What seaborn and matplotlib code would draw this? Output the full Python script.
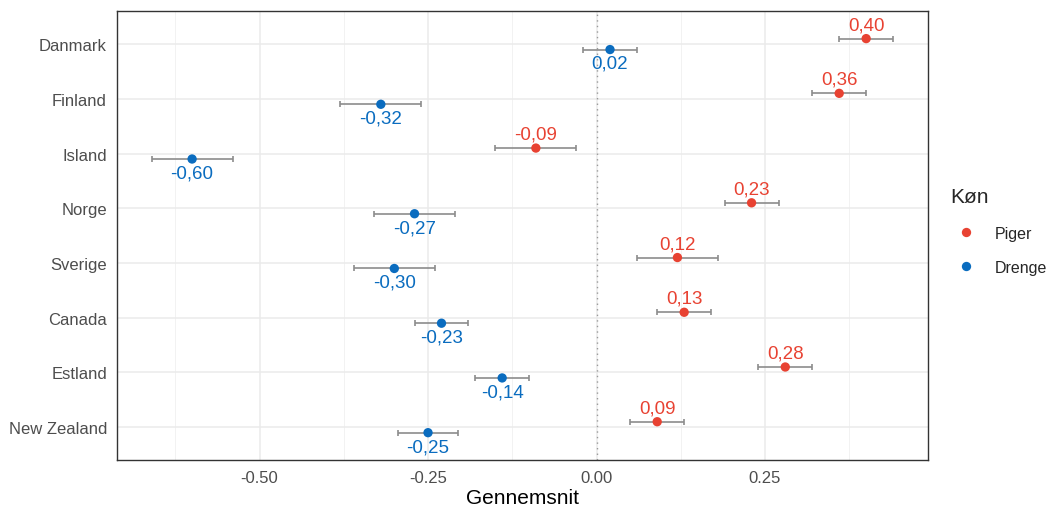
"""Gennemsnit per land og køn, prikker med fejlsøjler."""

import matplotlib.pyplot as plt
import pandas as pd
import seaborn as sns
from matplotlib.ticker import FixedLocator

countries = ["Danmark", "Finland", "Island", "Norge", "Sverige",
             "Canada", "Estland", "New Zealand"]
piger_mean = [0.40, 0.36, -0.09, 0.23, 0.12, 0.13, 0.28, 0.09]
piger_err = [0.04, 0.04, 0.06, 0.04, 0.06, 0.04, 0.04, 0.04]
drenge_mean = [0.02, -0.32, -0.60, -0.27, -0.30, -0.23, -0.14, -0.25]
drenge_err = [0.04, 0.06, 0.06, 0.06, 0.06, 0.04, 0.04, 0.045]
x_ticks = [-0.50, -0.25, 0.00, 0.25]
x_minor = [-0.625, -0.375, -0.125, 0.125, 0.375]

colors = {"Piger": "#E84232", "Drenge": "#0A6CBF"}
dodge = {"Piger": -0.1, "Drenge": 0.1}

df = pd.concat([
    pd.DataFrame({"land": countries, "mean": piger_mean, "err": piger_err, "Køn": "Piger"}),
    pd.DataFrame({"land": countries, "mean": drenge_mean, "err": drenge_err, "Køn": "Drenge"}),
], ignore_index=True)
df["ypos"] = df["land"].map({c: i for i, c in enumerate(countries)}) + df["Køn"].map(dodge)

sns.set_theme(style="white")
plt.rcParams["font.family"] = ["Liberation Sans", "DejaVu Sans"]

fig, ax = plt.subplots(figsize=(10.6, 5.1), dpi=100)
fig.subplots_adjust(left=0.110, right=0.875, bottom=0.096, top=0.976)

# grid like theme_bw
for x in x_ticks:
    ax.axvline(x, color="#EBEBEB", lw=1.1, zorder=0)
for x in x_minor:
    ax.axvline(x, color="#F2F2F2", lw=0.7, zorder=0)
for i in range(len(countries)):
    ax.axhline(i, color="#EBEBEB", lw=1.1, zorder=0)
ax.axvline(0, color="#999999", lw=1.0, ls=(0, (1, 3)), zorder=1)

ax.errorbar(df["mean"], df["ypos"], xerr=df["err"], fmt="none",
            ecolor="#8C8C8C", elinewidth=1.2, capsize=2.5, capthick=1.2, zorder=2)
sns.scatterplot(data=df, x="mean", y="ypos", hue="Køn", palette=colors,
                hue_order=["Piger", "Drenge"], s=45, edgecolor="none",
                ax=ax, zorder=3)

for _, r in df.iterrows():
    off = -10 if r["Køn"] == "Piger" else 10
    ax.annotate(f"{r['mean']:.2f}".replace(".", ","), (r["mean"], r["ypos"]),
                xytext=(0, -off), textcoords="offset points",
                ha="center", va="center", fontsize=13.5, color=colors[r["Køn"]])

ax.set_xlim(-0.712, 0.491)
ax.set_ylim(len(countries) - 1 + 0.6, -0.6)
ax.set_yticks(range(len(countries)))
ax.set_yticklabels(countries)
ax.set_xticks(x_ticks)
ax.set_xticklabels([f"{t:.2f}" for t in x_ticks])
ax.xaxis.set_minor_locator(FixedLocator(x_minor))
ax.tick_params(axis="both", which="major", length=4, width=1, color="#333333",
               labelcolor="#4D4D4D", labelsize=12, pad=3)
ax.tick_params(axis="x", which="minor", length=0)
ax.set_xlabel("Gennemsnit", fontsize=15, color="black", labelpad=2)
ax.set_ylabel("")
for s in ax.spines.values():
    s.set_color("#333333")
    s.set_linewidth(1.0)

handles, labels = ax.get_legend_handles_labels()
ax.legend(handles, labels, title="Køn", loc="center left",
          bbox_to_anchor=(1.01, 0.51), frameon=False, fontsize=11.5,
          title_fontsize=15, markerscale=1.0, handletextpad=0.8,
          labelspacing=1.2, alignment="left")

fig.savefig("out.png", dpi=100)
